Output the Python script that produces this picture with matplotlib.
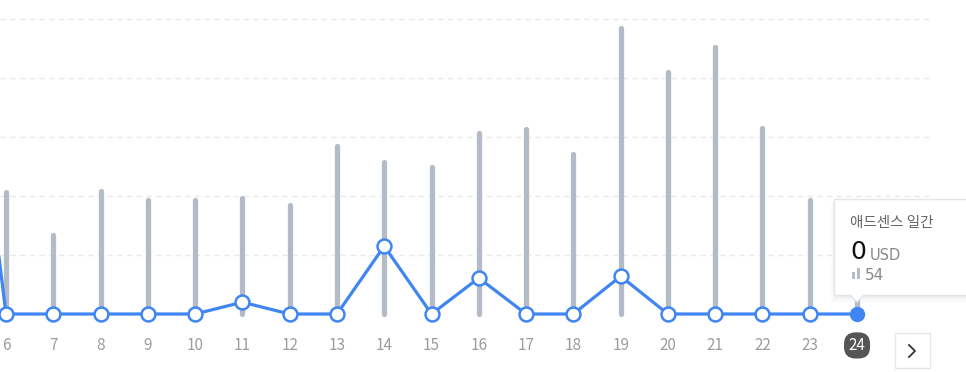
import matplotlib.pyplot as plt
from matplotlib.patches import Rectangle, Polygon

plt.rcParams['font.family'] = ['Noto Sans CJK KR', 'DejaVu Sans']

# days shown on the x axis (day 5 lies just off the left edge)
days = [5, 6, 7, 8, 9, 10, 11, 12, 13, 14, 15, 16, 17, 18, 19, 20, 21, 22, 23, 24]
# page views (grey bars)
views = [None, 103, 67, 104, 97, 97, 98, 92, 142, 129, 125, 153, 157, 136, 242, 205, 226, 158, 97, 54]
# adsense revenue in USD (blue line)
revenue = [0.65, 0, 0, 0, 0, 0, 0.02, 0, 0, 0.115, 0, 0.061, 0, 0, 0.064, 0, 0, 0, 0, 0]
tick_days = list(range(6, 25))

W, H = 966, 372
fig = plt.figure(figsize=(W / 100, H / 100), dpi=100)

# axes placed in pixel units: x 0..930, y 0..330 (from top)
ax = fig.add_axes([0, (H - 330) / H, 930 / W, 330 / H])
ax2 = ax.twinx()

px_day = 47.28
ax.set_xlim(6 - 6 / px_day, 6 + (930 - 6) / px_day)
ax.set_ylim(-16 / 59 * 50, 314 / 59 * 50)
ax2.set_ylim(-16 / 59 * 0.1, 314 / 59 * 0.1)

for g in [50, 100, 150, 200, 250]:
    ax.axhline(g, color='#e8eaed', lw=1, ls=(0, (4, 3)), zorder=0)

bar_x = [d for d, v in zip(days, views) if v is not None]
bar_v = [v for v in views if v is not None]
ax.vlines(bar_x, 0, bar_v, color='#b3bcc6', lw=3.8, capstyle='round', zorder=1)

blue = '#3f86f2'
ax2.plot(days, revenue, color=blue, lw=2.3, zorder=3)
ax2.plot(days[:-1], revenue[:-1], 'o', ms=10, mfc='white', mec=blue, mew=1.8,
         clip_on=False, zorder=4)
ax2.plot(days[-1:], revenue[-1:], 'o', ms=10, mfc=blue, mec=blue, clip_on=False, zorder=4)

ax.set_xticks(tick_days)
ax.set_xticklabels([str(d) for d in tick_days])
ax.tick_params(axis='x', length=0, pad=5, labelsize=11, labelcolor='#a09b97')
ax.set_yticks([])
ax2.set_yticks([])
for s in list(ax.spines.values()) + list(ax2.spines.values()):
    s.set_visible(False)
ax.patch.set_alpha(0)

lab = ax.get_xticklabels()[-1]
lab.set_color('white')
lab.set_bbox(dict(boxstyle='round,pad=0.3,rounding_size=0.75', fc='#555555', ec='none'))

# overlay in pixel coordinates for tooltip and nav button
ov = fig.add_axes([0, 0, 1, 1])
ov.set_xlim(0, W)
ov.set_ylim(H, 0)
ov.axis('off')
ov.patch.set_alpha(0)

# tooltip soft shadow + box
for i, a in enumerate([0.025, 0.02, 0.015, 0.01]):
    ov.add_patch(Rectangle((834 - i, 199 + i), 140, 96 + 2 + i, fc='#000000', alpha=a, ec='none', zorder=5))
ov.add_patch(Rectangle((834, 199), 140, 96, fc='white', ec='#e3e6ea', lw=1, zorder=6))
ov.add_patch(Polygon([[850, 294], [864, 294], [857, 302]], closed=True, fc='white', ec='none', zorder=7))
ov.plot([850, 857, 864], [295, 302, 295], color='#e3e6ea', lw=1, zorder=7)

ov.text(850, 223, '애드센스 일간', fontsize=10.5, color='#666666', va='center', ha='left', zorder=8)
ov.text(850, 252, '0', fontsize=18, color='#111111', va='center', ha='left', zorder=8,
        family=['DejaVu Sans'])
ov.text(870, 256, 'USD', fontsize=10.5, color='#888888', va='center', ha='left', zorder=8,
        family=['DejaVu Sans'])
ov.add_patch(Rectangle((852, 272), 3, 7, fc='#b3bcc6', ec='none', zorder=8))
ov.add_patch(Rectangle((857, 268), 3, 11, fc='#b3bcc6', ec='none', zorder=8))
ov.text(865, 275.5, '54', fontsize=11, color='#888888', va='center', ha='left', zorder=8,
        family=['DejaVu Sans'])

# next button
ov.add_patch(Rectangle((895, 333), 35, 35, fc='white', ec='#e3e6ea', lw=1, zorder=5))
ov.plot([909, 915, 909], [345, 351, 357], color='#333333', lw=1.3, zorder=6)

fig.savefig('out.png', dpi=100)
